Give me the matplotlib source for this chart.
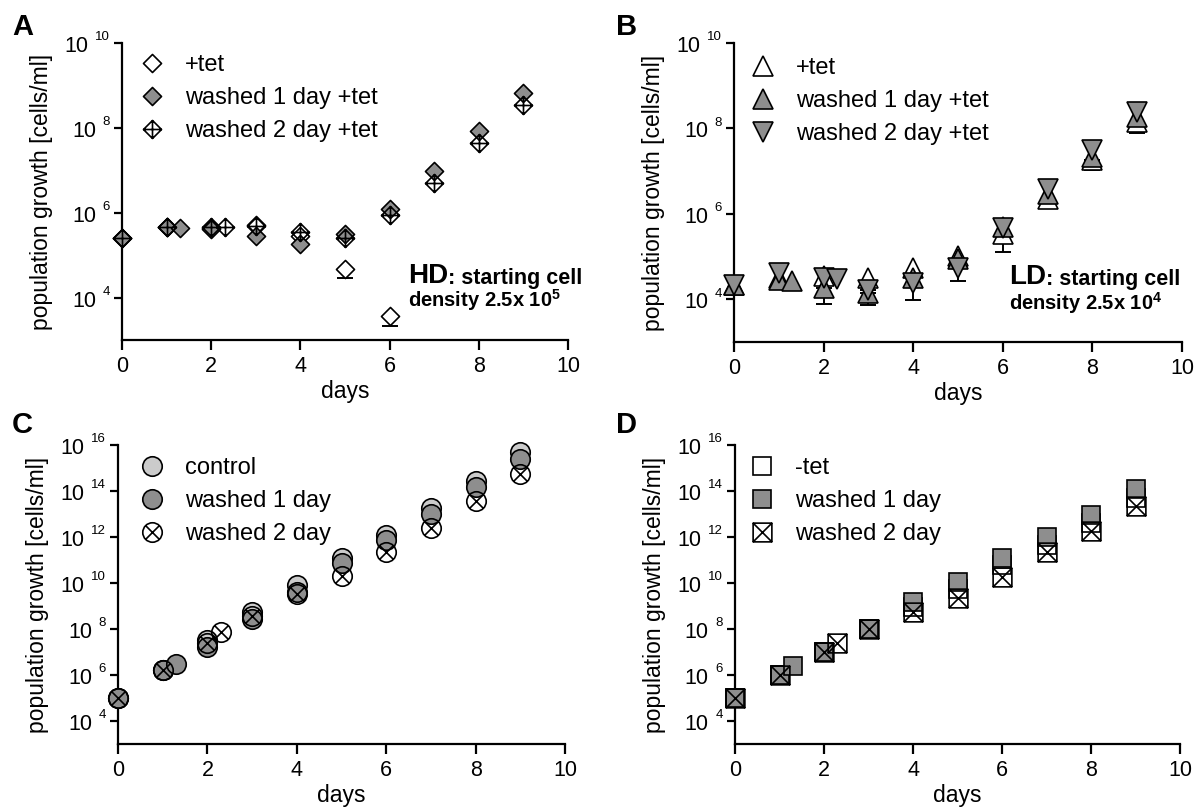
import matplotlib
matplotlib.use('Agg')
import matplotlib.pyplot as plt
import numpy as np
from matplotlib.path import Path
from matplotlib.ticker import FixedLocator, NullLocator, NullFormatter
from matplotlib.lines import Line2D
from matplotlib.text import Annotation

plt.rcParams['font.family'] = ['Liberation Sans', 'DejaVu Sans']
plt.rcParams['mathtext.fontset'] = 'custom'
plt.rcParams['mathtext.rm'] = 'Liberation Sans'
plt.rcParams['mathtext.bf'] = 'Liberation Sans:bold'

W, H = 1198, 807

# ---------------- data (log10 of cells/ml) ----------------
# Panel A (HD)
a_tet_days = [0, 1, 2, 3, 4, 5, 6]
a_tet_log = [5.40, 5.66, 5.65, 5.72, 5.46, 4.67, 3.57]
a_tet_err_days = [5, 6]
a_tet_err_low = [4.45, 3.34]
a_w1_days = [0, 1, 1.3, 2, 3, 4, 5, 6, 7, 8, 9]
a_w1_log = [5.40, 5.66, 5.64, 5.62, 5.45, 5.26, 5.50, 6.08, 6.98, 7.93, 8.82]
a_w2_days = [0, 1, 2, 2.3, 3, 4, 5, 6, 7, 8, 9]
a_w2_log = [5.40, 5.66, 5.66, 5.66, 5.68, 5.54, 5.40, 5.94, 6.69, 7.64, 8.53]
a_labels = ['+tet', 'washed 1 day +tet', 'washed 2 day +tet']

# Panel B (LD)
b_tet_days = [0, 1, 2, 3, 4, 5, 6, 7, 8, 9]
b_tet_log = [4.34, 4.50, 4.54, 4.50, 4.74, 5.02, 5.54, 6.34, 7.26, 8.14]
b_tet_err_days = [6, 8, 9]
b_tet_err_low = [5.10, 7.02, 7.89]
b_w1_days = [0, 1, 1.3, 2, 3, 4, 5, 6, 7, 8, 9]
b_w1_log = [4.34, 4.46, 4.42, 4.26, 4.14, 4.50, 4.94, 5.70, 6.46, 7.34, 8.26]
b_w1_err_days = [2, 3]
b_w1_err_low = [3.89, 3.86]
b_w2_days = [0, 1, 2, 2.3, 3, 4, 5, 6, 7, 8, 9]
b_w2_log = [4.34, 4.62, 4.50, 4.48, 4.22, 4.38, 4.74, 5.66, 6.58, 7.50, 8.38]
b_w2_err_days = [3, 4, 5, 8, 9]
b_w2_err_low = [3.94, 3.98, 4.42, 7.14, 7.98]
b_w2_err_high = [4.22, 4.38, 4.74, 7.66, 8.56]
b_labels = ['+tet', 'washed 1 day +tet', 'washed 2 day +tet']

# Panel C
c_ctrl_days = [0, 1, 2, 3, 4, 5, 6, 7, 8, 9]
c_ctrl_log = [5.0, 6.2, 7.53, 8.73, 9.9, 11.1, 12.1, 13.26, 14.43, 15.68]
c_w1_days = [0, 1, 1.3, 2, 3, 4, 5, 6, 7, 8, 9]
c_w1_log = [5.0, 6.2, 6.46, 7.23, 8.43, 9.6, 10.85, 11.87, 13.0, 14.17, 15.39]
c_w2_days = [0, 1, 2, 2.3, 3, 4, 5, 6, 7, 8, 9]
c_w2_log = [5.0, 6.2, 7.38, 7.85, 8.58, 9.53, 10.3, 11.36, 12.41, 13.56, 14.76]
c_labels = ['control', 'washed 1 day', 'washed 2 day']

# Panel D
d_tet_days = [0, 1, 2, 3, 4, 5, 6, 7, 8, 9]
d_tet_log = [5.0, 6.02, 7.0, 8.02, 8.95, 9.75, 10.78, 11.65, 12.6, 13.7]
d_w1_days = [0, 1, 1.3, 2, 3, 4, 5, 6, 7, 8, 9]
d_w1_log = [5.0, 6.02, 6.39, 7.0, 8.02, 9.17, 10.04, 11.1, 12.02, 12.97, 14.07]
d_w2_days = [0, 1, 2, 2.3, 3, 4, 5, 6, 7, 8, 9]
d_w2_log = [5.0, 6.02, 7.0, 7.37, 8.02, 8.76, 9.36, 10.26, 11.33, 12.24, 13.34]
d_labels = ['-tet', 'washed 1 day', 'washed 2 day']

x_ticks = [0, 2, 4, 6, 8, 10]
ab_yticks = [4, 6, 8, 10]
cd_yticks = [4, 6, 8, 10, 12, 14, 16]

GRAY = '#8e8e8e'
LIGHT = '#cbcbcb'

# ---------------- custom markers ----------------
M, L, C = Path.MOVETO, Path.LINETO, Path.CLOSEPOLY
diamond_plus = Path([(0, 1), (1, 0), (0, -1), (-1, 0), (0, 1),
                     (0, 1), (0, -1), (-1, 0), (1, 0)],
                    [M, L, L, L, C, M, L, M, L])
r = np.sqrt(0.5)
circle_x = Path.make_compound_path(
    Path.unit_circle(),
    Path([(-r, -r), (r, r), (-r, r), (r, -r)], [M, L, M, L]))
square_x = Path([(-1, -1), (1, -1), (1, 1), (-1, 1), (-1, -1),
                 (-1, -1), (1, 1), (-1, 1), (1, -1)],
                [M, L, L, L, C, M, L, M, L])
diamond = Path([(0, 1), (1, 0), (0, -1), (-1, 0), (0, 1)], [M, L, L, L, C])

fig = plt.figure(figsize=(W / 100, H / 100), dpi=100)


def make_axes(l, r_, t, b):
    return fig.add_axes([l / W, 1 - b / H, (r_ - l) / W, (b - t) / H])


def style(ax, ylo, yhi, yticks):
    ax.set_yscale('log')
    ax.set_xlim(0, 10)
    ax.set_ylim(10.0 ** ylo, 10.0 ** yhi)
    for s in ['top', 'right']:
        ax.spines[s].set_visible(False)
    for s in ['left', 'bottom']:
        ax.spines[s].set_linewidth(1.6)
    ax.xaxis.set_major_locator(FixedLocator(x_ticks))
    ax.yaxis.set_major_locator(FixedLocator([10.0 ** k for k in yticks]))
    ax.yaxis.set_minor_locator(NullLocator())
    ax.yaxis.set_major_formatter(NullFormatter())
    ax.yaxis.set_minor_formatter(NullFormatter())
    ax.tick_params(axis='x', direction='out', length=7.5, width=1.6,
                   labelsize=15.5, pad=4)
    ax.tick_params(axis='y', direction='out', length=5.5, width=1.6,
                   labelleft=False)
    ax.set_xlabel('days', fontsize=16.5, labelpad=2)
    ax.set_ylabel('population growth [cells/ml]', fontsize=16.5)
    ax.yaxis.set_label_coords(-0.155, 0.5)
    for k in yticks:
        sup = ax.annotate(str(k), xy=(0, 10.0 ** k),
                          xycoords=('axes fraction', 'data'),
                          xytext=(-8.5, 1.8), textcoords='offset points',
                          ha='right', va='baseline', fontsize=9.5)
        ax.annotate('10', xy=(0, 10.0 ** k), xycoords=(sup, 'data'),
                    xytext=(-5, -6.5), textcoords='offset points',
                    ha='right', va='baseline', fontsize=15.5)


def series(ax, days, logs, marker, fc, ms, z):
    ax.plot(days, [10.0 ** v for v in logs], linestyle='none', marker=marker,
            markersize=ms, markerfacecolor=fc, markeredgecolor='black',
            markeredgewidth=1.2, clip_on=False, zorder=z)


def errbars(ax, days, lookup_days, logs, low, high=None):
    y = np.array([10.0 ** logs[lookup_days.index(d)] for d in days])
    lo = y - 10.0 ** np.array(low)
    hi = np.zeros_like(y) if high is None else 10.0 ** np.array(high) - y
    ax.errorbar(days, y, yerr=[lo, hi], fmt='none', ecolor='black',
                elinewidth=1.4, capsize=6, capthick=1.4, clip_on=False,
                zorder=2)


def legend(ax, handles, labels, left_px, top_px):
    ax.legend(handles, labels, loc='upper left',
              bbox_to_anchor=(left_px / W, 1 - top_px / H),
              bbox_transform=fig.transFigure, frameon=False, fontsize=17,
              borderpad=0, borderaxespad=0, handlelength=1.0,
              handletextpad=0.92, labelspacing=0.47)


def handle(marker, fc, ms):
    return Line2D([], [], linestyle='none', marker=marker, markersize=ms,
                  markerfacecolor=fc, markeredgecolor='black',
                  markeredgewidth=1.2)


# ---------------- Panel A ----------------
DMS = 13
axA = make_axes(122, 568, 43, 340)
style(axA, 3, 10, ab_yticks)
errbars(axA, a_tet_err_days, a_tet_days, a_tet_log, a_tet_err_low)
series(axA, a_tet_days, a_tet_log, diamond, 'white', DMS, 3)
series(axA, a_w1_days, a_w1_log, diamond, GRAY, DMS, 4)
series(axA, a_w2_days, a_w2_log, diamond_plus, 'none', DMS, 5)
legend(axA, [handle(diamond, 'white', DMS), handle(diamond, GRAY, DMS),
             handle(diamond_plus, 'white', DMS)], a_labels, 140, 54)

# ---------------- Panel B ----------------
axB = make_axes(734, 1182, 43, 342)
style(axB, 3, 10, ab_yticks)
errbars(axB, b_tet_err_days, b_tet_days, b_tet_log, b_tet_err_low)
errbars(axB, b_w1_err_days, b_w1_days, b_w1_log, b_w1_err_low)
errbars(axB, b_w2_err_days, b_w2_days, b_w2_log, b_w2_err_low, b_w2_err_high)
series(axB, b_tet_days, b_tet_log, '^', 'white', 14, 3)
series(axB, b_w1_days, b_w1_log, '^', GRAY, 14, 4)
series(axB, b_w2_days, b_w2_log, 'v', GRAY, 14, 5)
legend(axB, [handle('^', 'white', 14), handle('^', GRAY, 14),
             handle('v', GRAY, 14)], b_labels, 751, 57)

# ---------------- Panel C ----------------
axC = make_axes(118, 565, 445, 744)
style(axC, 3, 16, cd_yticks)
series(axC, c_ctrl_days, c_ctrl_log, 'o', LIGHT, 14, 3)
series(axC, c_w1_days, c_w1_log, 'o', GRAY, 14, 4)
series(axC, c_w2_days, c_w2_log, circle_x, 'none', 14, 5)
legend(axC, [handle('o', LIGHT, 14), handle('o', GRAY, 14),
             handle(circle_x, 'white', 14)], c_labels, 140, 457)

# ---------------- Panel D ----------------
axD = make_axes(735, 1180, 445, 744)
style(axD, 3, 16, cd_yticks)
series(axD, d_tet_days, d_tet_log, 's', 'white', 13.5, 3)
series(axD, d_w1_days, d_w1_log, 's', GRAY, 13.5, 4)
series(axD, d_w2_days, d_w2_log, square_x, 'none', 13.5, 5)
legend(axD, [handle('s', 'white', 13.5), handle('s', GRAY, 13.5),
             handle(square_x, 'white', 13.5)], d_labels, 750, 457)


# ---------------- annotations ----------------
def note(prefix, exp, x_px, y1_px, y2_px):
    t1 = fig.text(x_px / W, 1 - y1_px / H, prefix, fontsize=20,
                  fontweight='bold', ha='left', va='baseline')
    a = Annotation(': starting cell', xy=(1, 0), xycoords=t1,
                   xytext=(0, 0), textcoords='offset points',
                   fontsize=15.5, fontweight='bold', ha='left', va='bottom')
    fig.add_artist(a)
    fig.text(x_px / W, 1 - y2_px / H,
             r'density 2.5x 10$^{\mathbf{%s}}$' % exp, fontsize=14.5,
             fontweight='bold', ha='left', va='baseline')


note('HD', '5', 408, 283, 307)
note('LD', '4', 1009, 284, 310)

# panel letters
for letter, x, y in [('A', 12, 35), ('B', 616, 35), ('C', 12, 433), ('D', 616, 433)]:
    fig.text(x / W, 1 - y / H, letter, fontsize=21, fontweight='bold',
             ha='left', va='baseline')

fig.savefig('out.png', dpi=100)
